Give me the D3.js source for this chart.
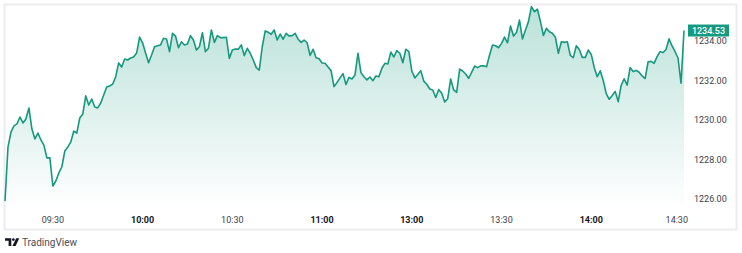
<!DOCTYPE html>
<html><head><meta charset="utf-8">
<script src="https://cdn.jsdelivr.net/npm/d3@7"></script>
<style>
html,body{margin:0;padding:0;background:#fff;}
svg{display:block;font-family:Roboto,"Liberation Sans",sans-serif;}
</style></head>
<body><svg id="c" width="742" height="253"></svg>
<script>
// ---- data ----
const sessions = [["09:14","11:29"],["13:00","14:31"]];
const prices = [
1225.90,1228.63,1229.39,1229.70,1229.80,1230.15,1229.85,1230.05,1230.61,1229.54,
1229.04,1229.34,1228.99,1228.73,1228.08,1228.08,1226.66,1226.91,1227.32,1227.62,
1228.43,1228.63,1228.89,1229.44,1229.34,1230.10,1230.30,1231.22,1230.76,1231.06,
1230.66,1230.61,1230.86,1231.27,1231.67,1231.72,1231.82,1232.18,1232.89,1232.68,
1233.09,1233.04,1233.14,1233.19,1233.39,1234.20,
1233.91,1233.39,1232.90,1233.29,1233.71,1233.76,1233.80,1234.14,1234.10,1233.46,
1234.39,1234.25,1233.66,1233.96,1233.80,1233.85,1234.27,1234.05,1233.54,1233.71,
1234.42,1233.46,1233.63,1234.56,1233.93,1234.27,1234.17,1234.17,1234.19,1233.12,
1233.54,1233.59,1233.59,1233.80,1233.26,1233.63,1233.38,1233.04,1232.65,1232.53,
1233.71,1234.51,1234.44,1234.34,1234.56,
1234.05,1234.35,1234.09,1234.39,1234.25,1234.27,1234.39,1234.09,1233.93,1234.05,
1233.91,1233.27,1233.58,1233.15,1233.10,1232.89,1232.87,1232.68,1232.50,1231.69,
1231.90,1232.13,1232.35,1231.80,1232.16,1232.08,1232.28,1233.38,1232.40,1232.19,
1232.03,1232.18,1231.99,1232.23,1232.19,1232.62,1232.87,1232.84,1233.44,1233.19,
1233.51,1233.38,1232.90,1233.58,1233.47,
1232.48,1232.13,1232.30,1232.50,1231.97,1231.81,1231.57,1231.52,1231.14,1231.54,
1231.35,1230.91,1231.08,1232.08,1231.52,1231.40,1232.58,1232.48,1232.33,1232.11,
1232.41,1232.73,1232.65,1232.74,1232.75,1232.70,1233.29,1233.80,1233.76,1233.66,
1233.88,1234.20,1233.91,1234.76,1234.25,1234.43,1235.06,1234.10,1234.56,1234.98,
1235.74,1235.48,1235.61,1234.99,1234.28,
1234.64,1234.47,1234.39,1234.19,1233.38,1233.96,1233.93,1233.96,1233.27,1233.16,
1233.76,1233.57,1233.17,1233.17,1233.54,1233.32,1232.65,1232.19,1232.49,1232.00,
1231.34,1231.05,1231.24,1231.45,1230.93,1231.75,1232.09,1231.77,1232.66,1232.45,
1232.51,1232.42,1232.23,1232.10,1232.95,1232.97,1232.87,1233.21,1233.46,1233.42,
1233.57,1234.11,1233.75,1233.47,1233.14,1231.86,1234.53
];
const xTickLabels = ["09:30","10:00","10:30","11:00","13:00","13:30","14:00","14:30"];
const yTickValues = [1226,1228,1230,1232,1234];

// ---- build bar times from sessions ----
function toMin(s){const [h,m]=s.split(":").map(Number);return h*60+m;}
function toStr(m){return String(Math.floor(m/60)).padStart(2,"0")+":"+String(m%60).padStart(2,"0");}
const times = [];
sessions.forEach(([a,b])=>{for(let m=toMin(a);m<=toMin(b);m++) times.push(toStr(m));});
const data = prices.map((v,i)=>({i, t: times[i], v}));

const svg = d3.select("#c");
const W = 742;
const plotL = 5, plotR = 684, plotT = 6, plotB = 208;

const x = d3.scaleLinear().domain([0, data.length-1]).range([plotL, plotR]);
const y = d3.scaleLinear().domain([1226, 1234]).range([199, 41]);

// frame
svg.append("rect").attr("x",4.5).attr("y",4.5).attr("width",732).attr("height",225)
  .attr("fill","#fff").attr("stroke","#ececf1").attr("stroke-width",2);

// gradient
const defs = svg.append("defs");
const g = defs.append("linearGradient").attr("id","ag").attr("gradientUnits","userSpaceOnUse")
  .attr("x1",0).attr("x2",0).attr("y1",plotT).attr("y2",plotB);
g.append("stop").attr("offset","0%").attr("stop-color","#1a9b81").attr("stop-opacity",0.30);
g.append("stop").attr("offset","100%").attr("stop-color","#1a9b81").attr("stop-opacity",0.0);

const area = d3.area().x(d=>x(d.i)).y0(plotB).y1(d=>y(d.v));
const line = d3.line().x(d=>x(d.i)).y(d=>y(d.v));

svg.append("path").datum(data).attr("d",area).attr("fill","url(#ag)");
svg.append("path").datum(data).attr("d",line).attr("fill","none")
  .attr("stroke","#14997e").attr("stroke-width",1.6).attr("stroke-linejoin","round");

// x axis labels
const xa = svg.append("g").attr("font-size",9).attr("fill","#131722");
xTickLabels.forEach(lbl=>{
  const idx = times.indexOf(lbl);
  if(idx<0) return;
  const t = xa.append("text").attr("x",x(idx)).attr("y",223).attr("text-anchor","middle")
    .attr("font-weight", lbl.endsWith(":00") ? 700 : 400).attr("fill", lbl.endsWith(":00") ? "#131722" : "#3b3f4a").text(lbl);
  const w = t.node().getComputedTextLength();
  if (x(idx) + w/2 > 688) t.attr("x", 688 - w/2);
});

// y axis labels
const ya = svg.append("g").attr("font-size",9).attr("fill","#3b3f4a");
yTickValues.forEach(v=>{
  ya.append("text").attr("x",694).attr("y",y(v)).attr("dy","0.35em").text(d3.format(".2f")(v));
});

// last price tag
const last = data[data.length-1];
svg.append("rect").attr("x",688).attr("y",y(last.v)-6).attr("width",41).attr("height",12)
  .attr("fill","#149a80");
svg.append("text").attr("x",708.5).attr("y",y(last.v)).attr("dy","0.35em").attr("text-anchor","middle")
  .attr("font-size",9).attr("font-weight",500).attr("fill","#fff").text(d3.format(".2f")(last.v));

// TradingView logo
const logo = svg.append("g").attr("fill","#131722");
logo.append("path").attr("d","M5,238.3 H11.3 V246 H8.6 V240.8 H5 Z");
logo.append("circle").attr("cx",13.4).attr("cy",239.6).attr("r",1.35);
logo.append("path").attr("d","M16.2,238.3 H19.3 L15.6,246 H12.4 Z");
svg.append("text").attr("x",22).attr("y",245.5).attr("font-size",10).attr("fill","#4a4e57").text("TradingView");
</script>
</body></html>
